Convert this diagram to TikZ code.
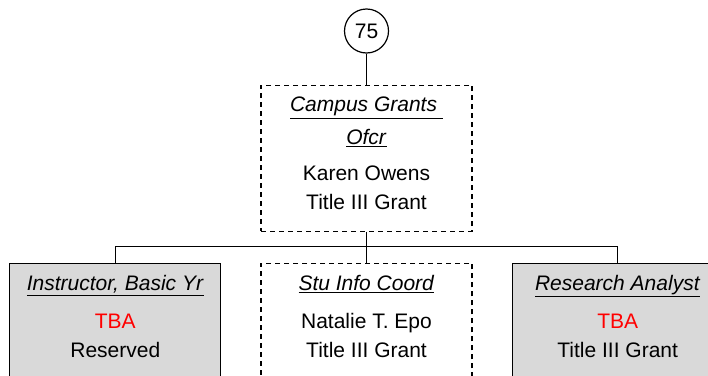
\documentclass[tikz,border=0pt]{standalone}
\usepackage{fontspec}
\setmainfont{Liberation Sans}
\usepackage{xcolor}
\usetikzlibrary{positioning}

\newcommand\postitle[1]{\underline{\textit{#1}}}

\begin{document}
\begin{tikzpicture}[
    x=1pt, y=1pt,
    node distance=31pt,
    every node/.style={font=\fontsize{21}{29}\selectfont},
    circ/.style={draw, circle, line width=1.2pt, minimum size=44pt, inner sep=0pt},
    post/.style={draw, line width=1.2pt, minimum width=211pt,
                 minimum height=146pt, inner sep=0pt},
    vacant/.style={post, fill=gray!30},
    staffed/.style={post, dash pattern=on 5pt off 4pt},
    txt/.style={align=center, inner sep=0pt, anchor=north},
    link/.style={line width=1.2pt},
]
\useasboundingbox (0,0) rectangle (708,-375);

\node[circ] (num) at (366.5,-31) {75};
\node[staffed, below=of num] (grants) {};
\node[staffed, below=of grants] (stu) {};
\node[vacant, left=39pt of stu] (instr) {};
\node[vacant, right=39pt of stu] (analyst) {};

% texts inside the boxes
\node[txt] (grants-t) at ([yshift=-12.5pt]grants.north)
    {\postitle{Campus Grants\ }\\[4pt] \postitle{Ofcr}\\[7pt] Karen Owens\\ Title III Grant};
\node[txt] (stu-t) at ([yshift=-12.5pt]stu.north)
    {\postitle{Stu Info Coord}\\[9pt] Natalie T. Epo\\ Title III Grant};
\node[txt] (instr-t) at ([yshift=-12.5pt]instr.north)
    {\postitle{Instructor, Basic Yr}\\[9pt] \textcolor{red}{TBA}\\ Reserved};
\node[txt] (analyst-t) at ([yshift=-12.5pt]analyst.north)
    {\postitle{Research Analyst}\\[9pt] \textcolor{red}{TBA}\\ Title III Grant};

\draw[link] (num) -- (grants);
\draw[link] (grants.south) -- ++(0,-15) coordinate (bus);
\draw[link] (bus) -- (stu.north);
\draw[link] (instr.north) |- (bus) -| (analyst.north);
\end{tikzpicture}
\end{document}
